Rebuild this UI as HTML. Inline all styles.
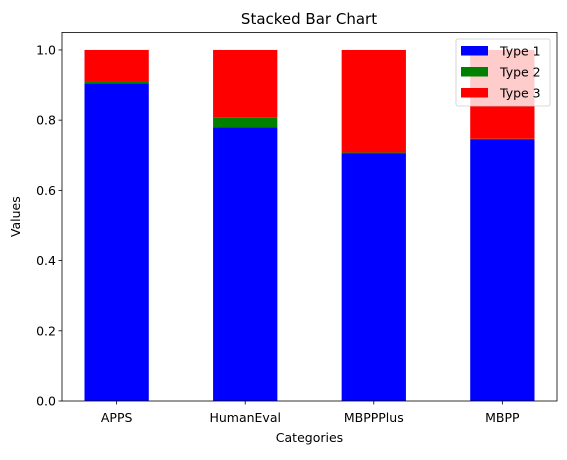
<!DOCTYPE html>
<html><head><meta charset="utf-8"><style>
body{margin:0;background:#fff}
svg text{font-family:"DejaVu Sans","Liberation Sans",sans-serif;fill:#000}
</style></head><body>
<svg id="chart" width="567" height="455" xmlns="http://www.w3.org/2000/svg">
<rect width="567" height="455" fill="#fff"/>
<text x="309" y="24" font-size="15" text-anchor="middle">Stacked Bar Chart</text>
<g id="bars"></g>
<g id="axes"></g>
</svg>
<script>
const categories = ["APPS","HumanEval","MBPPPlus","MBPP"];
const type1 = [0.905, 0.78, 0.705, 0.745];
const type2 = [0.005, 0.027, 0.003, 0.002];
const type3 = [0.09, 0.193, 0.292, 0.253];
const yTicks = [0, 0.2, 0.4, 0.6, 0.8, 1.0];
const seriesNames = ["Type 1","Type 2","Type 3"];

const NS="http://www.w3.org/2000/svg";
const L=62,R=557,T=32.4,B=401;
const xmin=-0.425,xmax=3.425,ymin=0,ymax=1.05;
const FS=12.5;
const xs=i=>L+(i-xmin)/(xmax-xmin)*(R-L);
const ys=v=>B-(v-ymin)/(ymax-ymin)*(B-T);
function mk(tag,attrs,parent){const e=document.createElementNS(NS,tag);for(const k in attrs)e.setAttribute(k,attrs[k]);parent.appendChild(e);return e;}
const bars=document.getElementById('bars'),axes=document.getElementById('axes');
const series=[type1,type2,type3],colors=["#0000ff","#008000","#ff0000"];
categories.forEach((c,i)=>{
  let base=0;
  series.forEach((s,k)=>{
    const x0=xs(i-0.25),x1=xs(i+0.25);
    const r=mk('rect',{x:x0,y:ys(base+s[i]),width:x1-x0,height:ys(base)-ys(base+s[i]),fill:colors[k]},bars);
    
    
    base+=s[i];
  });
  const tk=mk('line',{x1:xs(i),x2:xs(i),y1:B,y2:B+3.5,stroke:'#000','stroke-width':0.8},axes);
  
  
  const t=mk('text',{x:xs(i),y:B+21,'font-size':FS,'text-anchor':'middle'},axes);
  t.textContent=c;
  
  
});
yTicks.forEach(v=>{
  const tk=mk('line',{x1:L-3.5,x2:L,y1:ys(v),y2:ys(v),stroke:'#000','stroke-width':0.8},axes);
  
  
  const t=mk('text',{x:L-6,y:ys(v)+4.5,'font-size':FS,'text-anchor':'end'},axes);
  t.textContent=v.toFixed(1);
  
  
});
const fr=mk('rect',{x:L,y:T,width:R-L,height:B-T,fill:'none',stroke:'#000','stroke-width':0.8},axes);


const xl=mk('text',{x:(L+R)/2,y:442,'font-size':FS,'text-anchor':'middle'},axes);
xl.textContent='Categories';


const yl=mk('text',{x:0,y:0,'font-size':FS,'text-anchor':'middle',transform:'translate(20,'+((T+B)/2)+') rotate(-90)'},axes);
yl.textContent='Values';


const lg=mk('g',{},axes);


mk('rect',{x:456,y:39,width:94,height:67,rx:2,fill:'#fff','fill-opacity':0.8,stroke:'#ccc','stroke-width':0.8},lg);
seriesNames.forEach((n,k)=>{
  const y=51+k*21;
  const h=mk('rect',{x:461,y:y-5,width:27,height:9.5,fill:colors[k]},lg);
  
  
  const t=mk('text',{x:500,y:y+4.5,'font-size':FS},lg);
  t.textContent=n;
  
  
});
</script>
</body></html>
